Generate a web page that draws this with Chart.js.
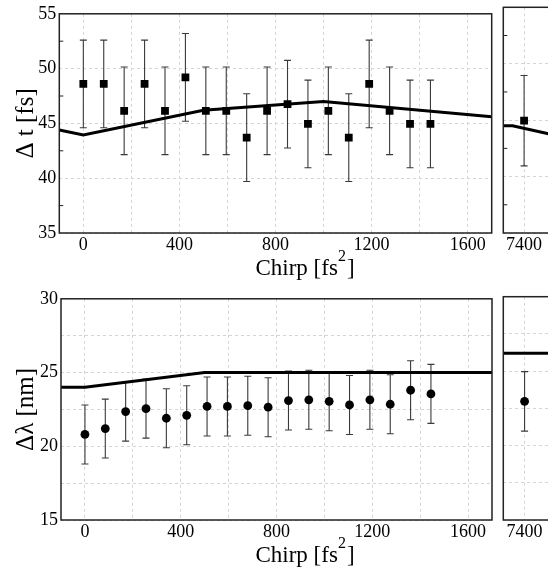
<!DOCTYPE html>
<html>
<head>
<meta charset="utf-8">
<script src="https://cdn.jsdelivr.net/npm/chart.js@4.4.0/dist/chart.umd.min.js"></script>
<style>
  html, body { margin: 0; padding: 0; background: #fff; overflow: hidden; }
  body { width: 548px; height: 573px; position: relative; }
  canvas { position: absolute; }
</style>
</head>
<body>
<canvas id="dtMain" width="500" height="280" style="left:0;top:0"></canvas>
<canvas id="dtFar" width="60" height="280" style="left:495px;top:0"></canvas>
<canvas id="dlMain" width="500" height="288" style="left:0;top:285px"></canvas>
<canvas id="dlFar" width="60" height="288" style="left:495px;top:285px"></canvas>
<script>
// measured points (chirp in fs^2)
const chirp = [0, 85, 170, 255, 340, 425, 510, 595, 680, 765, 850, 935, 1020, 1105, 1190, 1275, 1360, 1445];
const dt = [48.6, 48.6, 46.15, 48.6, 46.15, 49.2, 46.15, 46.15, 43.7, 46.15, 46.75, 44.95, 46.15, 43.7, 48.6, 46.15, 44.95, 44.95];
const dtErr = [4, 4, 4, 4, 4, 4, 4, 4, 4, 4, 4, 4, 4, 4, 4, 4, 4, 4];
const dl = [20.8, 21.2, 22.35, 22.55, 21.9, 22.1, 22.7, 22.7, 22.75, 22.65, 23.1, 23.15, 23.05, 22.8, 23.15, 22.85, 23.8, 23.55];
const dlErr = [2, 2, 2, 2, 2, 2, 2, 2, 2, 2, 2, 2, 2, 2, 2, 2, 2, 2];

// the lone point at large chirp
const farChirp = [7400];
const dtFar = [44.95];
const dtFarErr = [4];
const dlFar = [22.97];
const dlFarErr = [2];

// simulation curves
const dtModelX = [-100, 0, 500, 1000, 1700];
const dtModel = [44.4, 43.95, 46.2, 47.0, 45.6];
const dtModelFarX = [7310, 7350, 7510];
const dtModelFar = [44.5, 44.5, 43.77];
const dlModelX = [-100, 0, 500, 1700];
const dlModel = [24.0, 24.0, 25.0, 25.0];
const dlModelFarX = [7310, 7510];
const dlModelFar = [26.2, 26.2];

// ticks
const xGrid = [0, 200, 400, 600, 800, 1000, 1200, 1400, 1600];
const xLabels = [0, 400, 800, 1200, 1600];
const farGrid = [7400];
const dtTicks = [35, 40, 45, 50, 55];
const dtMinor = [37.5, 42.5, 47.5, 52.5];
const dlTicks = [15, 17.5, 20, 22.5, 25, 27.5, 30];
const dlLabels = [15, 20, 25, 30];

Chart.defaults.font.family = '"Liberation Serif", "Times New Roman", serif';
Chart.defaults.color = '#000';

const pts = (xs, ys) => xs.map((x, i) => ({x: x, y: ys[i]}));

// error bars, frame, inner minor ticks and the x title
function decor(o) {
  return {
    id: 'decor',
    beforeDatasetsDraw(chart) {
      const {ctx, scales: {x, y}} = chart;
      ctx.save();
      ctx.strokeStyle = '#3a3a3a';
      ctx.lineWidth = 1.1;
      chart.data.datasets.forEach(ds => {
        if (!ds.errors) return;
        ds.data.forEach((p, i) => {
          const px = x.getPixelForValue(p.x);
          const hi = y.getPixelForValue(p.y + ds.errors[i]);
          const lo = y.getPixelForValue(p.y - ds.errors[i]);
          ctx.beginPath();
          ctx.moveTo(px, hi); ctx.lineTo(px, lo);
          ctx.moveTo(px - 3.5, hi); ctx.lineTo(px + 3.5, hi);
          ctx.moveTo(px - 3.5, lo); ctx.lineTo(px + 3.5, lo);
          ctx.stroke();
        });
      });
      ctx.restore();
    },
    afterDraw(chart) {
      const {ctx, chartArea: a, scales: {y}} = chart;
      ctx.save();
      ctx.strokeStyle = '#222';
      ctx.lineWidth = 1.5;
      ctx.strokeRect(a.left, a.top, a.right - a.left, a.bottom - a.top);
      ctx.lineWidth = 1;
      (o.minor || []).forEach(v => {
        const py = y.getPixelForValue(v);
        ctx.beginPath();
        ctx.moveTo(a.left, py); ctx.lineTo(a.left + 4, py);
        ctx.stroke();
      });
      if (o.xTitle) {
        const main = '23px "Liberation Serif"', sup = '16px "Liberation Serif"';
        ctx.fillStyle = '#000';
        ctx.textBaseline = 'alphabetic';
        ctx.font = main;
        const w1 = ctx.measureText('Chirp [fs').width;
        const w3 = ctx.measureText(']').width;
        ctx.font = sup;
        const w2 = ctx.measureText('2').width + 1;
        let cx = 305 - (w1 + w2 + w3) / 2;
        const by = a.bottom + 42;
        ctx.font = main;
        ctx.fillText('Chirp [fs', cx, by);
        ctx.font = sup;
        ctx.fillText('2', cx + w1, by - 14);
        ctx.font = main;
        ctx.fillText(']', cx + w1 + w2, by);
      }
      ctx.restore();
    }
  };
}

function panel(id, o) {
  new Chart(document.getElementById(id), {
    type: 'scatter',
    data: {
      datasets: [
        {
          data: pts(o.modelX, o.model),
          showLine: true,
          borderColor: '#000',
          borderWidth: 3,
          pointRadius: 0,
          order: 1
        },
        {
          data: pts(o.x, o.y),
          errors: o.err,
          pointStyle: o.marker,
          pointRadius: o.marker === 'rect' ? 5.5 : 4.4,
          backgroundColor: '#000',
          borderColor: '#000',
          borderWidth: 0,
          order: 0
        }
      ]
    },
    options: {
      responsive: false,
      animation: false,
      events: [],
      layout: { padding: o.pad },
      plugins: { legend: { display: false }, tooltip: { enabled: false } },
      scales: {
        x: {
          type: 'linear',
          min: o.xMin,
          max: o.xMax,
          afterBuildTicks: s => { s.ticks = o.xGrid.map(v => ({value: v})); },
          afterFit: s => { s.height = o.xHeight; },
          grid: { color: '#d4d4d4', drawTicks: false },
          border: { display: false, dash: [3, 3] },
          ticks: {
            padding: 1,
            font: { size: 18 },
            maxRotation: 0,
            autoSkip: false,
            callback: v => o.xLabels.includes(v) ? String(v) : ''
          }
        },
        y: {
          min: o.yMin,
          max: o.yMax,
          afterBuildTicks: s => { s.ticks = o.yTicks.map(v => ({value: v})); },
          afterFit: s => { s.width = o.yWidth; },
          grid: { color: '#d4d4d4', drawTicks: false },
          border: { display: false, dash: [3, 3] },
          ticks: {
            display: !!o.yTitle,
            padding: 3,
            font: { size: 18 },
            autoSkip: false,
            callback: v => o.yLabels.includes(v) ? String(v) : ''
          },
          title: {
            display: !!o.yTitle,
            text: o.yTitle,
            font: { size: 25 },
            padding: { top: 11, bottom: 0 }
          }
        }
      }
    },
    plugins: [decor(o)]
  });
}

// top row: pulse duration
panel('dtMain', {
  x: chirp, y: dt, err: dtErr, marker: 'rect',
  modelX: dtModelX, model: dtModel,
  xMin: -100, xMax: 1700, xGrid: xGrid, xLabels: xLabels,
  yMin: 35, yMax: 55, yTicks: dtTicks, yLabels: dtTicks, minor: dtMinor,
  yTitle: '\u0394 t [fs]', xTitle: true,
  pad: { left: 0, top: 7.3, right: 8.3, bottom: 0 }, yWidth: 59.3, xHeight: 47
});
panel('dtFar', {
  x: farChirp, y: dtFar, err: dtFarErr, marker: 'rect',
  modelX: dtModelFarX, model: dtModelFar,
  xMin: 7310, xMax: 7510, xGrid: farGrid, xLabels: farGrid,
  yMin: 35, yMax: 55, yTicks: dtTicks, yLabels: [], minor: dtMinor,
  pad: { left: 8.3, top: 7.3, right: 3.5, bottom: 0 }, yWidth: 0, xHeight: 47
});

// bottom row: spectral width
panel('dlMain', {
  x: chirp, y: dl, err: dlErr, marker: 'circle',
  modelX: dlModelX, model: dlModel,
  xMin: -100, xMax: 1700, xGrid: xGrid, xLabels: xLabels,
  yMin: 15, yMax: 30, yTicks: dlTicks, yLabels: dlLabels,
  yTitle: '\u0394\u03bb [nm]', xTitle: true,
  pad: { left: 0, top: 11, right: 8, bottom: 0 }, yWidth: 61, xHeight: 53
});
panel('dlFar', {
  x: farChirp, y: dlFar, err: dlFarErr, marker: 'circle',
  modelX: dlModelFarX, model: dlModelFar,
  xMin: 7310, xMax: 7510, xGrid: farGrid, xLabels: farGrid,
  yMin: 15, yMax: 30, yTicks: dlTicks, yLabels: [],
  pad: { left: 8.3, top: 11.7, right: 3.5, bottom: 0 }, yWidth: 0, xHeight: 53
});
</script>
</body>
</html>
